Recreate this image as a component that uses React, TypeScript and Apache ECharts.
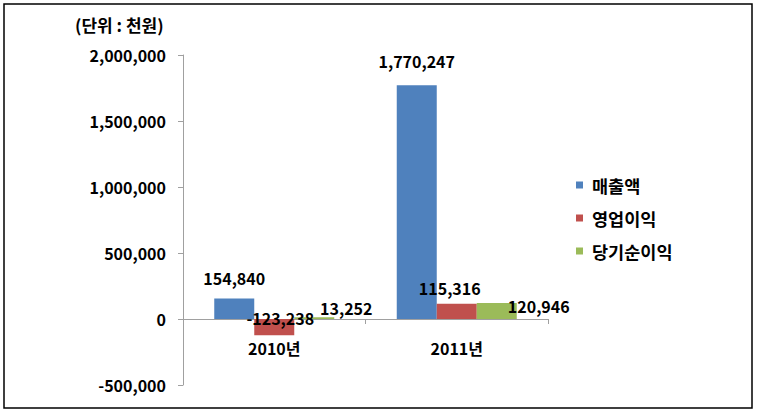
import React, { useEffect, useRef } from "react";
import * as echarts from "echarts";

const categories = ["2010년", "2011년"];
const seriesNames = ["매출액", "영업이익", "당기순이익"];
const salesValues = [154840, 1770247];
const operatingValues = [-123238, 115316];
const netValues = [13252, 120946];
const yTicks = { min: -500000, max: 2000000, interval: 500000 };
const unitLabel = "(단위 : 천원)";

// label nudges (px) per series per category, mimicking the reference placement
const labelNudges = [
  [[0, -8], [0, -11]],
  [[6, -30], [-7, -3]],
  [[32, 4], [42, 16]],
];

const colors = ["#4F81BD", "#C0504D", "#9BBB59"];
const FONT = "'Noto Sans CJK KR', 'Noto Sans', sans-serif";

const fmt = (v: number) => v.toLocaleString("en-US");

export default function App() {
  const ref = useRef<HTMLDivElement>(null);
  useEffect(() => {
    if (!ref.current) return;
    const chart = echarts.init(ref.current, undefined, { renderer: "svg" });
    const allValues = [salesValues, operatingValues, netValues];
    chart.setOption({
      animation: false,
      backgroundColor: "#ffffff",
      textStyle: { fontFamily: FONT },
      grid: { left: 183, right: 209, top: 55, bottom: 35, containLabel: false },
      legend: {
        orient: "vertical",
        left: 571,
        top: 170,
        itemWidth: 7,
        itemHeight: 7,
        itemGap: 13,
        icon: "rect",
        data: seriesNames,
        textStyle: {
          fontFamily: FONT,
          fontWeight: "bold",
          fontSize: 17.5,
          color: "#000",
          lineHeight: 20,
          padding: [0, 0, 0, 4],
        },
      },
      xAxis: {
        type: "category",
        data: categories,
        axisLine: { onZero: true, lineStyle: { color: "#A0A0A0", width: 1 } },
        axisTick: { show: true, length: 5, lineStyle: { color: "#A0A0A0" } },
        axisLabel: {
          margin: -45,
          fontFamily: FONT,
          fontWeight: "bold",
          fontSize: 16,
          color: "#000",
        },
        splitLine: { show: false },
      },
      yAxis: {
        type: "value",
        min: yTicks.min,
        max: yTicks.max,
        interval: yTicks.interval,
        axisLine: { show: true, lineStyle: { color: "#A0A0A0", width: 1 } },
        axisTick: { show: true, length: 5, lineStyle: { color: "#A0A0A0" } },
        axisLabel: {
          margin: 17,
          fontFamily: FONT,
          fontWeight: "bold",
          fontSize: 16,
          color: "#000",
          formatter: (v: number) => fmt(v),
        },
        splitLine: { show: false },
      },
      series: seriesNames.map((name, si) => ({
        name,
        type: "bar",
        barWidth: 40,
        barGap: "0%",
        itemStyle: { color: colors[si] },
        data: allValues[si].map((v, ci) => ({
          value: v,
          label: { offset: labelNudges[si][ci] },
        })),
        label: {
          show: true,
          position: "outside",
          distance: 5,
          fontFamily: FONT,
          fontWeight: "bold",
          fontSize: 16,
          color: "#000",
          formatter: (p: any) => fmt(p.value),
        },
      })),
      graphic: [
        {
          type: "rect",
          shape: { x: 4, y: 4, width: 748, height: 404 },
          style: { fill: "none", stroke: "#000", lineWidth: 1.5 },
          silent: true,
        },
        {
          type: "text",
          left: 75,
          top: 16,
          style: {
            text: unitLabel,
            fontFamily: FONT,
            fontWeight: "bold",
            fontSize: 17,
            fill: "#000",
          },
        },
      ],
    });
    return () => chart.dispose();
  }, []);
  return (
    <div
      ref={ref}
      style={{ position: "absolute", left: 0, top: 0, width: 757, height: 420 }}
    />
  );
}
